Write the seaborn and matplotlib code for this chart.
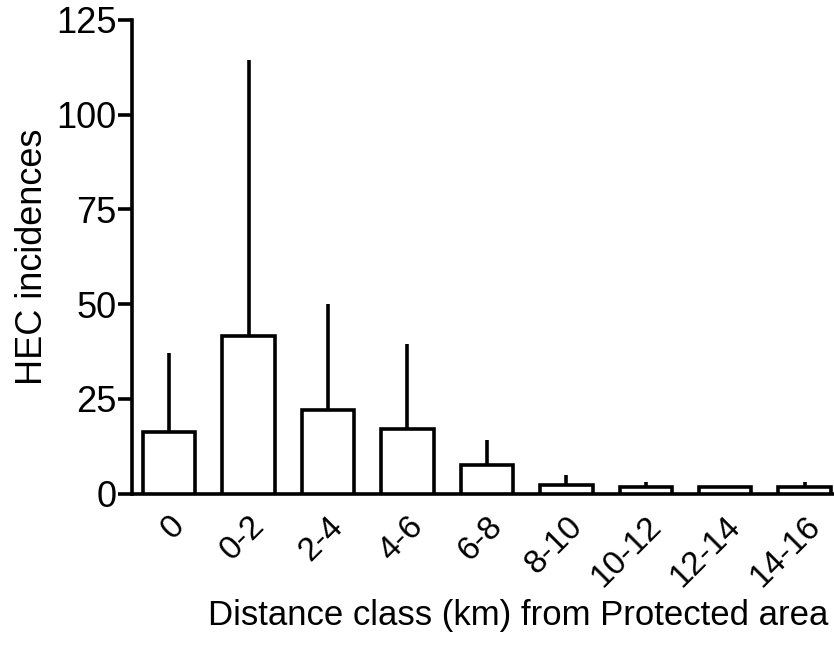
import numpy as np
import pandas as pd
import matplotlib
matplotlib.use("Agg")
import matplotlib.pyplot as plt
import seaborn as sns

# values
distance_class = ["0", "0-2", "2-4", "4-6", "6-8", "8-10", "10-12", "12-14", "14-16"]
hec_mean = [16.3, 41.5, 22.0, 17.2, 7.6, 2.2, 1.8, 1.8, 1.8]
hec_err = [20.7, 73.0, 28.0, 22.3, 6.5, 2.8, 1.4, 0.0, 1.2]
y_ticks = [0, 25, 50, 75, 100, 125]

sns.set_style("ticks")
plt.rcParams["font.family"] = ["Liberation Sans", "DejaVu Sans"]
plt.rcParams["text.color"] = "black"
plt.rcParams["axes.labelcolor"] = "black"
plt.rcParams["xtick.color"] = "black"
plt.rcParams["ytick.color"] = "black"

df = pd.DataFrame({"cls": distance_class, "hec": hec_mean})

fig = plt.figure(figsize=(8.34, 6.61), dpi=100)
ax = fig.add_axes([0.158, 0.253, 0.842, 0.717])

lw = 2.6
sns.barplot(data=df, x="cls", y="hec", color="white", edgecolor="black",
            linewidth=lw, width=0.66, errorbar=None, ax=ax, zorder=3)
for p in ax.patches:
    p.set_facecolor("white")

pos = np.arange(len(distance_class))
ax.errorbar(pos, hec_mean, yerr=[np.zeros(len(hec_err)), hec_err], fmt="none",
            ecolor="black", elinewidth=lw, capsize=0, zorder=2)

ax.set_ylim(0, 125)
ax.set_xlim(-0.47, 8.37)
ax.set_yticks(y_ticks)
ax.set_yticklabels([str(t) for t in y_ticks], fontsize=26)
ax.set_xticks(pos)
ax.set_xticklabels(distance_class, fontsize=24, rotation=45, ha="right",
                   va="top", rotation_mode="anchor")
ax.tick_params(axis="y", length=10, width=lw, pad=1)
ax.tick_params(axis="x", length=0, pad=12)
ax.set_xlabel("Distance class (km) from Protected area", fontsize=25)
ax.xaxis.set_label_coords(0.55, -0.222)
ax.set_ylabel("HEC incidences", fontsize=26, labelpad=4)

for s in ["top", "right"]:
    ax.spines[s].set_visible(False)
for s in ["left", "bottom"]:
    ax.spines[s].set_linewidth(lw)
    ax.spines[s].set_color("black")

fig.savefig("out.png", dpi=100)
